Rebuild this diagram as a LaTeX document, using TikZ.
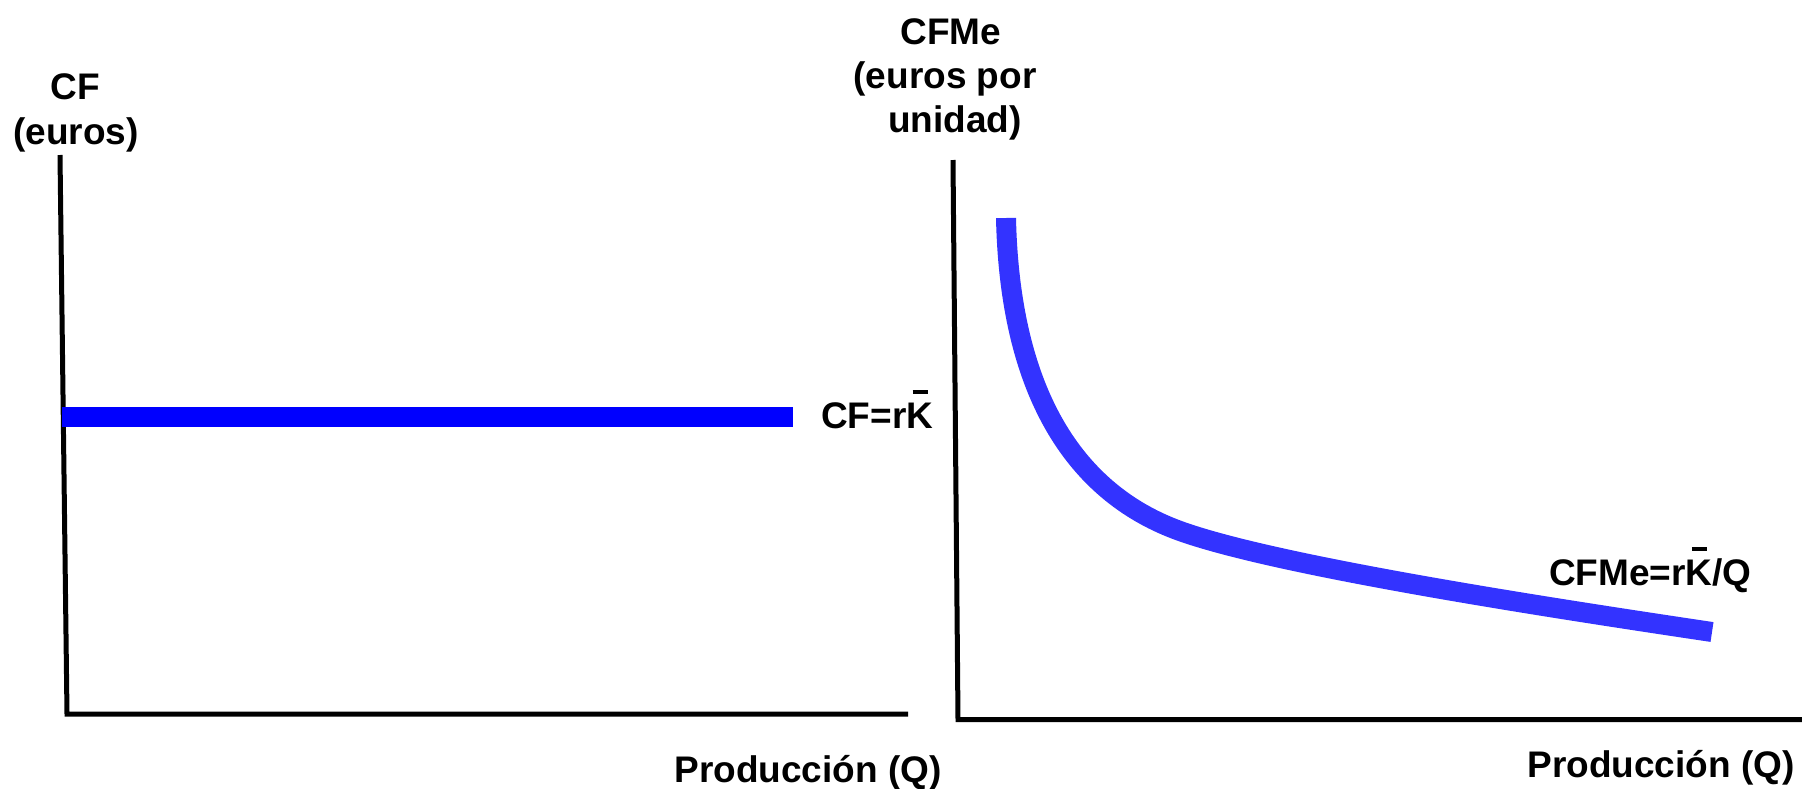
\documentclass[tikz,border=0pt]{standalone}
\usepackage{fontspec}
\setmainfont{Liberation Sans}
\definecolor{lineblue}{RGB}{0,0,255}
\definecolor{curveblue}{RGB}{51,51,255}
\newcommand{\Kbar}{\makebox[0pt][l]{\hspace{6pt}\rule[34.5pt]{15pt}{3.5pt}}K}
\tikzset{
  axis/.style={line width=5pt, black, line join=miter},
  lbl/.style={font=\fontsize{37}{44}\selectfont\bfseries, inner sep=0pt, anchor=base},
  lblw/.style={lbl, anchor=base west},
}
\begin{document}
\begin{tikzpicture}[x=1pt,y=-1pt]
\useasboundingbox (0,0) rectangle (1802,788);
% left panel
\coordinate (lt) at (60,155);
\coordinate (lo) at (67,714);
\coordinate (lr) at (908,714);
\draw[axis] (lt) -- (lo) -- (lr);
\coordinate (cfa) at (62,416.5);
\coordinate (cfb) at (793,416.5);
\draw[lineblue, line width=20pt] (cfa) -- (cfb);
\node[lbl] (cf1) at (75,99) {CF};
\node[lbl] (cf2) at (76,144) {(euros)};
\node[lblw] (cfeq) at (821,428) {CF=r\Kbar};
\node[lbl] (px1) at (808,782) {Producción (Q)};
% right panel
\coordinate (rt) at (953,160);
\coordinate (ro) at (958,719.5);
\coordinate (rr) at (1802,719.5);
\draw[axis] (rt) -- (ro) -- (rr);
\coordinate (c0) at (1006,218);
\coordinate (c1) at (1180,531);
\coordinate (c2) at (1712,632);
\draw[curveblue, line width=20pt] (c0) .. controls (1010,400) and (1080,495) .. (c1)
  .. controls (1280,567) and (1562,609.5) .. (c2);
\node[lbl] (cm1) at (951,44) {CFMe};
\node[lbl] (cm2) at (945,88) {(euros por};
\node[lbl] (cm3) at (955,132) {unidad)};
\node[lblw] (cmeq) at (1549,585) {CFMe=r\Kbar/Q};
\node[lbl] (px2) at (1661,777) {Producción (Q)};
\end{tikzpicture}
\end{document}
